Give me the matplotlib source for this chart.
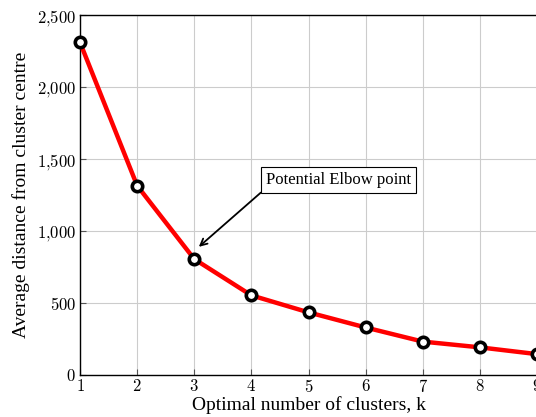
import matplotlib
matplotlib.use("Agg")
import matplotlib.pyplot as plt
from matplotlib.ticker import FuncFormatter

plt.rcParams['font.family'] = ['Liberation Serif', 'DejaVu Serif']
plt.rcParams['mathtext.fontset'] = 'cm'

# data
k_values = [1, 2, 3, 4, 5, 6, 7, 8, 9]
avg_distance = [2310, 1315, 805, 553, 435, 330, 232, 192, 145]

fig = plt.figure(figsize=(5.36, 4.17), dpi=100)
ax = fig.add_axes([80 / 536, 42 / 417, 457 / 536, 360 / 417])

ax.plot(k_values, avg_distance, color='red', linewidth=3.2, zorder=3,
        marker='o', markersize=7.5, markerfacecolor='white',
        markeredgecolor='black', markeredgewidth=2.6, clip_on=False)

ax.set_xlim(1, 9)
ax.set_ylim(0, 2500)
ax.set_xticks(k_values)
ax.set_yticks([0, 500, 1000, 1500, 2000, 2500])
ax.xaxis.set_major_formatter(FuncFormatter(lambda v, p: r'$%d$' % v))
ax.yaxis.set_major_formatter(
    FuncFormatter(lambda v, p: r'$%s$' % format(int(v), ',').replace(',', '{,}')))
ax.tick_params(direction='in', length=4, width=0.8, color='#555555',
               labelsize=12, pad=3)
ax.grid(True, color='#cccccc', linewidth=0.8)
ax.set_axisbelow(True)
for s in ax.spines.values():
    s.set_linewidth(1.0)

ax.set_xlabel('Optimal number of clusters, k', fontsize=14, labelpad=0)
ax.set_ylabel('Average distance from cluster centre', fontsize=14, labelpad=5)

ax.annotate('Potential Elbow point', xy=(3.08, 890), xytext=(5.53, 1355),
            fontsize=12, ha='center', va='center',
            bbox=dict(boxstyle='square,pad=0.3', fc='white', ec='black', lw=0.8),
            arrowprops=dict(arrowstyle='->', color='black', lw=1.3,
                            shrinkA=0, shrinkB=0, relpos=(0, 0)))

fig.savefig('out.png', dpi=100)
